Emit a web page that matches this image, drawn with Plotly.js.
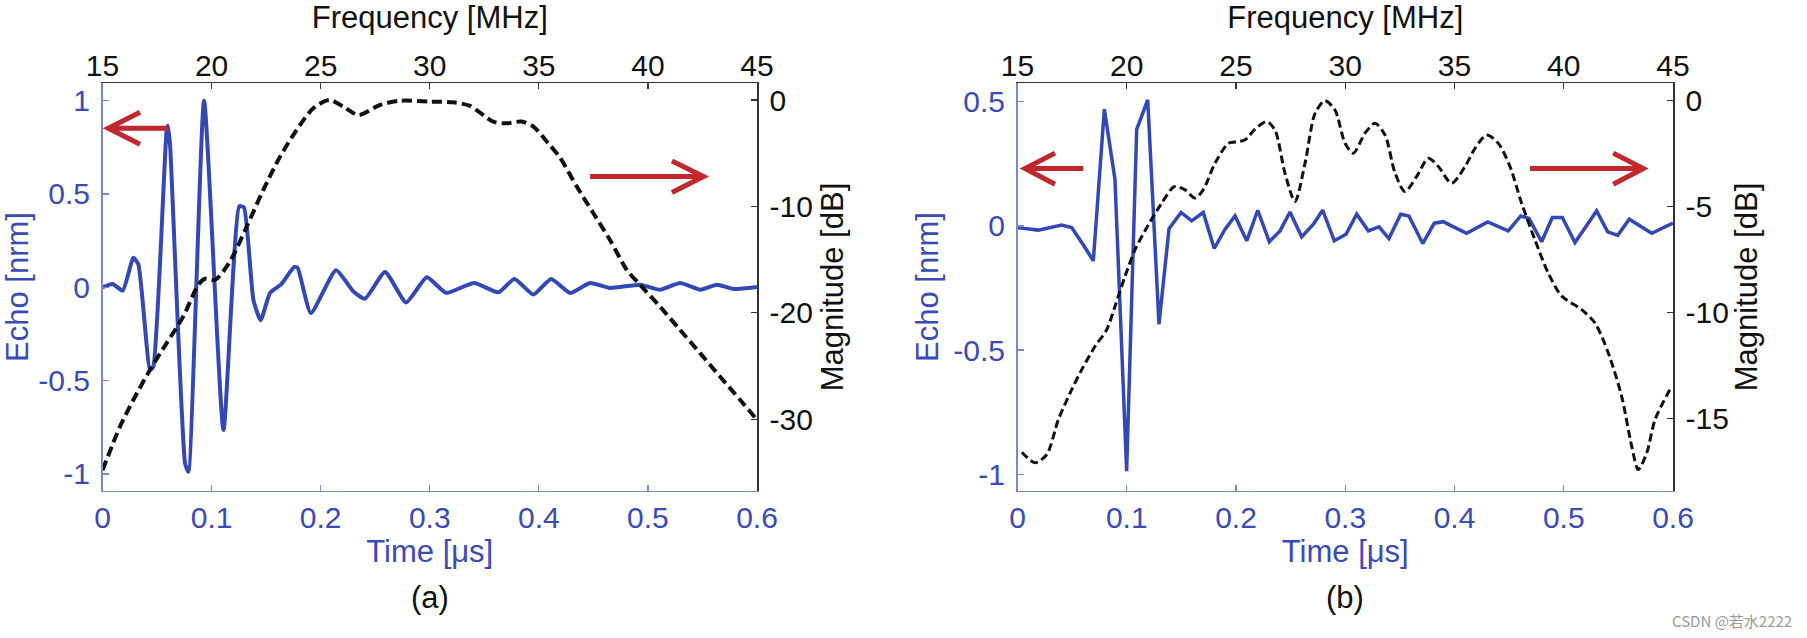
<!DOCTYPE html>
<html>
<head>
<meta charset="utf-8">
<script src="https://cdn.plot.ly/plotly-3.0.1.min.js"></script>
<style>
html,body{margin:0;padding:0;background:#ffffff;}
#chart{width:1807px;height:638px;}
</style>
</head>
<body>
<div id="chart"></div>
<script>
// ---------------- data ----------------
// Panel (a): echo waveform (time in µs, normalised amplitude)
const timeA = [0.000,0.0093,0.0185,0.0283,0.0329,0.0436,0.0466,0.0589,0.0600,0.0620,0.0757,0.0787,0.0931,0.1109,0.1254,0.1297,0.1383,0.1450,0.1536,0.1635,0.1758,0.1789,0.1910,0.2141,0.2300,0.2407,0.2590,0.2783,0.2973,0.3150,0.3407,0.3630,0.3776,0.3950,0.4113,0.4287,0.4470,0.4654,0.4929,0.5112,0.5296,0.5480,0.5632,0.5784,0.6000];
const echoA = [0.000,0.018,-0.018,0.158,0.122,-0.443,-0.425,0.848,0.866,0.758,-0.944,-0.989,1.000,-0.765,0.435,0.427,-0.066,-0.177,-0.030,0.014,0.109,0.104,-0.138,0.091,-0.022,-0.061,0.082,-0.081,0.054,-0.030,0.023,-0.027,0.045,-0.039,0.045,-0.030,0.023,-0.004,0.014,-0.013,0.023,-0.013,0.014,-0.009,0.002];
// Panel (a): spectrum magnitude (frequency in MHz, dB)
const freqA = [15.0,15.8,16.41,17.18,17.94,18.70,19.39,19.70,20.16,20.84,21.61,22.37,23.14,23.90,24.66,25.40,26.04,26.73,27.72,28.64,30.01,31.08,31.85,32.91,33.53,34.21,34.75,35.43,35.97,36.74,37.50,38.26,39.03,39.64,40.55,41.47,42.39,43.30,44.22,45.0];
const magA  = [-34.8,-30.7,-28.2,-25.35,-22.85,-20.35,-17.37,-16.8,-16.9,-15.18,-11.9,-8.45,-5.32,-2.82,-0.78,0.0,-0.63,-1.41,-0.47,-0.07,-0.16,-0.22,-0.56,-2.03,-2.19,-2.03,-2.5,-4.07,-5.4,-8.14,-10.64,-13.15,-15.96,-17.37,-19.41,-21.6,-23.79,-25.98,-28.17,-30.05];

// Panel (b): echo waveform
const timeB = [0.000,0.0190,0.0404,0.0496,0.0618,0.0694,0.0795,0.0892,0.0999,0.1091,0.1192,0.1295,0.1387,0.1497,0.1594,0.1700,0.1801,0.1900,0.1991,0.2098,0.2199,0.2305,0.2403,0.2494,0.2601,0.2708,0.2793,0.2900,0.3007,0.3105,0.3211,0.3309,0.3400,0.3507,0.3583,0.3709,0.3815,0.3897,0.4005,0.4111,0.4304,0.4492,0.4606,0.4682,0.4798,0.4895,0.4987,0.5103,0.5301,0.5402,0.5494,0.5600,0.5805,0.6000];
const echoB = [-0.007,-0.017,0.003,-0.007,-0.087,-0.141,0.470,0.188,-0.987,0.389,0.507,-0.396,-0.011,0.054,0.020,0.054,-0.091,-0.013,0.040,-0.060,0.063,-0.064,-0.020,0.056,-0.044,0.007,0.063,-0.060,-0.034,0.047,-0.020,-0.004,-0.051,0.047,0.040,-0.071,0.011,0.017,-0.007,-0.030,0.016,-0.020,0.040,0.030,-0.064,0.034,0.034,-0.067,0.060,-0.024,-0.038,0.027,-0.030,0.011];
// Panel (b): spectrum magnitude
const freqB = [15.2,15.8,16.34,16.87,17.48,17.94,18.55,19.08,19.46,19.92,20.38,20.99,21.60,22.18,22.67,23.12,23.50,24.04,24.65,24.95,25.41,25.87,26.40,26.78,27.24,27.70,28.16,28.62,29.07,29.53,29.99,30.37,30.90,31.36,31.82,32.28,32.73,33.27,33.80,34.26,34.87,35.48,35.94,36.47,37.00,37.54,38.07,38.68,39.29,39.90,40.82,41.43,42.04,42.65,43.11,43.41,43.80,44.18,44.94];
const magB  = [-16.6,-17.1,-16.71,-15.06,-13.65,-12.7,-11.6,-10.82,-9.72,-8.3,-7.04,-5.86,-4.84,-4.06,-4.21,-4.6,-4.21,-2.95,-2.01,-1.95,-1.85,-1.35,-0.99,-1.38,-3.42,-4.76,-2.95,-0.6,0.0,-0.44,-2.01,-2.48,-1.54,-1.07,-1.62,-3.42,-4.29,-3.58,-2.72,-3.11,-3.9,-3.11,-2.25,-1.62,-2.01,-3.11,-4.84,-6.57,-8.14,-9.22,-9.87,-10.5,-11.92,-13.96,-16.32,-17.42,-16.63,-15.06,-13.49];

// tick values and labels
const timeTicks = [0,0.1,0.2,0.3,0.4,0.5,0.6];
const timeTickText = ["0","0.1","0.2","0.3","0.4","0.5","0.6"];
const freqTicks = [15,20,25,30,35,40,45];
const freqTickText = ["15","20","25","30","35","40","45"];
const echoTicksA = [-1,-0.5,0,0.5,1];
const echoTickTextA = ["-1","-0.5","0","0.5","1"];
const magTicksA = [-30,-20,-10,0];
const magTickTextA = ["-30","-20","-10","0"];
const echoTicksB = [-1,-0.5,0,0.5];
const echoTickTextB = ["-1","-0.5","0","0.5"];
const magTicksB = [-15,-10,-5,0];
const magTickTextB = ["-15","-10","-5","0"];

// ---------------- styling ----------------
const FONT = 'Liberation Sans, Arial, Helvetica, sans-serif';
const BLUE = '#3347b5', BLUE_TXT = '#3a4ab6', BLUE_AX = '#7b87cf';
const BLACK = '#111111', AX_BLACK = '#333333', RED = '#c1272d';
const W = 1807, H = 638;
const domA = [102.5 / W, 757 / W];
const domB = [1017.5 / W, 1673 / W];
const domY = [1 - 490.7 / H, 1 - 83.3 / H];
const TICK = 30, TITLE = 31;

function bottomAxis(domain, anchor) {
  return {
    domain: domain, anchor: anchor, range: [0, 0.6], tickmode: 'array',
    tickvals: timeTicks, ticktext: timeTickText,
    ticks: 'inside', ticklen: 6, tickwidth: 1.3, tickcolor: BLUE_AX,
    showline: true, linecolor: BLUE_AX, linewidth: 1.5, showgrid: false, zeroline: false,
    tickfont: {family: FONT, size: TICK, color: BLUE_TXT}, ticklabelstandoff: 0,
    title: {text: 'Time [μs]', font: {family: FONT, size: TITLE, color: BLUE_TXT}, standoff: 3},
    automargin: false, fixedrange: true
  };
}
function topAxis(over, anchor) {
  return {
    overlaying: over, side: 'top', anchor: anchor, range: [15, 45], tickmode: 'array',
    tickvals: freqTicks, ticktext: freqTickText,
    ticks: 'inside', ticklen: 6, tickwidth: 1.3, tickcolor: AX_BLACK,
    showline: true, linecolor: AX_BLACK, linewidth: 1.5, showgrid: false, zeroline: false,
    tickfont: {family: FONT, size: TICK, color: BLACK}, ticklabelstandoff: -6,
    title: {text: 'Frequency [MHz]', font: {family: FONT, size: TITLE, color: BLACK}, standoff: 22},
    automargin: false, fixedrange: true
  };
}
function leftAxis(anchor, range, vals, text, standoff) {
  return {
    domain: domY, anchor: anchor, range: range, tickmode: 'array',
    tickvals: vals, ticktext: text,
    ticks: 'inside', ticklen: 6, tickwidth: 1.3, tickcolor: BLUE_AX,
    showline: true, linecolor: BLUE_AX, linewidth: 1.5, showgrid: false, zeroline: false,
    tickfont: {family: FONT, size: TICK, color: BLUE_TXT}, ticklabelstandoff: 5,
    title: {text: 'Echo [nrm]', font: {family: FONT, size: TITLE, color: BLUE_TXT}, standoff: standoff},
    automargin: false, fixedrange: true
  };
}
function rightAxis(over, anchor, range, vals, text, standoff) {
  return {
    overlaying: over, side: 'right', anchor: anchor, range: range, tickmode: 'array',
    tickvals: vals, ticktext: text,
    ticks: 'inside', ticklen: 6, tickwidth: 1.3, tickcolor: AX_BLACK,
    showline: true, linecolor: AX_BLACK, linewidth: 1.5, showgrid: false, zeroline: false,
    tickfont: {family: FONT, size: TICK, color: BLACK}, ticklabelstandoff: 5,
    title: {text: 'Magnitude [dB]', font: {family: FONT, size: TITLE, color: BLACK}, standoff: standoff},
    automargin: false, fixedrange: true
  };
}

// arrow made of a shaft and an open chevron head (axis units of the echo axes)
function arrow(xref, yref, tail, tip, y, wingX, wingY1, wingY2) {
  return {
    type: 'path', xref: xref, yref: yref, layer: 'above',
    path: 'M' + tail + ',' + y + ' L' + tip + ',' + y +
          ' M' + wingX + ',' + wingY1 + ' L' + tip + ',' + y + ' L' + wingX + ',' + wingY2,
    line: {color: RED, width: 5}
  };
}

const traces = [
  {x: timeA, y: echoA, xaxis: 'x', yaxis: 'y', type: 'scatter', mode: 'lines',
   line: {color: BLUE, width: 4, shape: 'spline', smoothing: 0.5}, hoverinfo: 'skip'},
  {x: freqA, y: magA, xaxis: 'x2', yaxis: 'y2', type: 'scatter', mode: 'lines',
   line: {color: BLACK, width: 4, dash: '10px,5px', shape: 'spline', smoothing: 0.8}, hoverinfo: 'skip'},
  {x: timeB, y: echoB, xaxis: 'x3', yaxis: 'y3', type: 'scatter', mode: 'lines',
   line: {color: BLUE, width: 3.5}, hoverinfo: 'skip'},
  {x: freqB, y: magB, xaxis: 'x4', yaxis: 'y4', type: 'scatter', mode: 'lines',
   line: {color: BLACK, width: 3, dash: '8px,4px', shape: 'spline', smoothing: 0.8}, hoverinfo: 'skip'}
];

const layout = {
  width: W, height: H,
  margin: {l: 0, r: 0, t: 0, b: 0, pad: 0},
  paper_bgcolor: '#ffffff', plot_bgcolor: 'rgba(0,0,0,0)',
  showlegend: false,
  font: {family: FONT, color: BLACK},
  xaxis: bottomAxis(domA, 'y'),
  xaxis2: topAxis('x', 'y'),
  yaxis: leftAxis('x', [-1.09, 1.093], echoTicksA, echoTickTextA, 6),
  yaxis2: rightAxis('y', 'x', [-36.72, 1.57], magTicksA, magTickTextA, 9),
  xaxis3: bottomAxis(domB, 'y3'),
  xaxis4: topAxis('x3', 'y3'),
  yaxis3: leftAxis('x3', [-1.066, 0.574], echoTicksB, echoTickTextB, 5),
  yaxis4: rightAxis('y3', 'x3', [-18.42, 0.82], magTicksB, magTickTextB, 5),
  shapes: [
    arrow('x', 'y', 0.0603, 0.0053, 0.852, 0.0344, 0.938, 0.767),
    arrow('x', 'y', 0.447, 0.551, 0.594, 0.522, 0.677, 0.508),
    arrow('x3', 'y3', 0.0602, 0.0069, 0.231, 0.0343, 0.293, 0.168),
    arrow('x3', 'y3', 0.4691, 0.5728, 0.231, 0.5453, 0.293, 0.168)
  ],
  annotations: [
    {text: '(a)', xref: 'paper', yref: 'paper', x: 429.75 / W, y: 1 - 597 / H,
     xanchor: 'center', yanchor: 'middle', showarrow: false,
     font: {family: FONT, size: 31, color: BLACK}},
    {text: '(b)', xref: 'paper', yref: 'paper', x: 1345.25 / W, y: 1 - 597 / H,
     xanchor: 'center', yanchor: 'middle', showarrow: false,
     font: {family: FONT, size: 31, color: BLACK}},
    {text: 'CSDN @若水2222', xref: 'paper', yref: 'paper', x: 1794 / W, y: 1 - 620 / H,
     xanchor: 'right', yanchor: 'middle', showarrow: false,
     font: {family: 'Noto Sans CJK SC, Liberation Sans, sans-serif', size: 15, color: '#9a9a9a'}}
  ]
};

Plotly.newPlot('chart', traces, layout, {staticPlot: true, displayModeBar: false});
</script>
</body>
</html>
